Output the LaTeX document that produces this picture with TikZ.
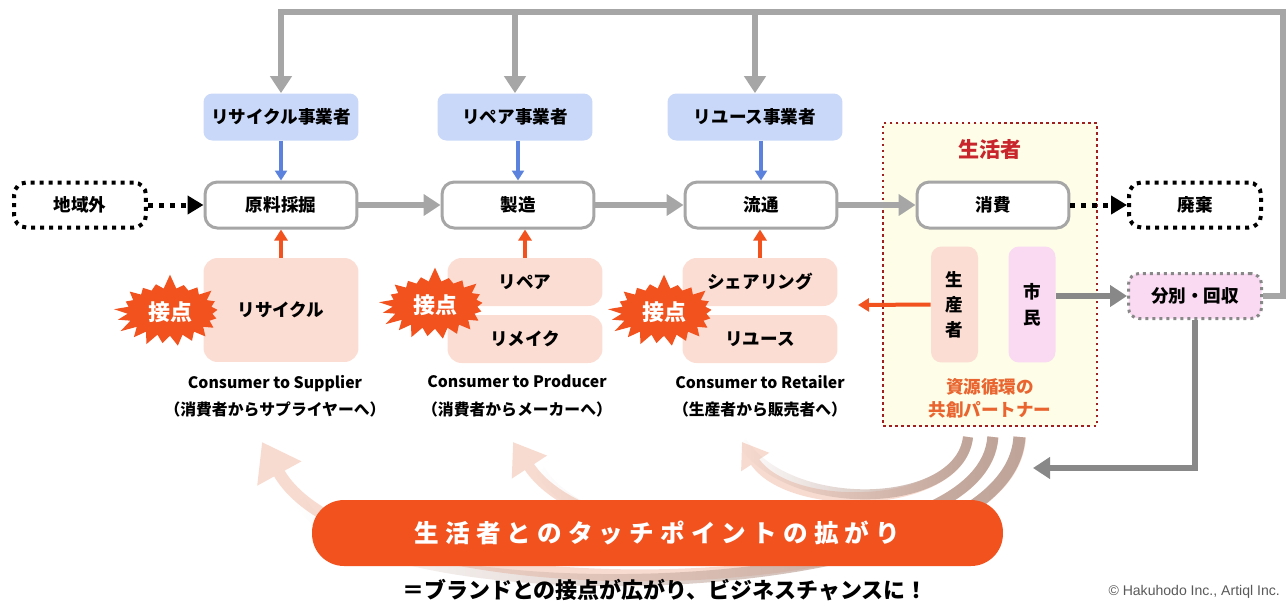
\documentclass[tikz,border=0pt]{standalone}
\usepackage{fontspec}
\setmainfont{Noto Sans CJK JP}
\newfontfamily\copyfont{Liberation Sans}
\usetikzlibrary{arrows.meta,shapes.symbols,fadings}
\definecolor{flowgray}{HTML}{A6A6A6}
\definecolor{backgray}{HTML}{888888}
\definecolor{bluebox}{HTML}{C9D8F8}
\definecolor{bluearrow}{HTML}{5B82DD}
\definecolor{pinkbox}{HTML}{FBDDD3}
\definecolor{accent}{HTML}{F2521E}
\definecolor{magbox}{HTML}{FAD9F2}
\definecolor{creamfill}{HTML}{FDFDE8}
\definecolor{darkred}{HTML}{A02020}
\definecolor{titlered}{HTML}{C8262C}
\definecolor{partner}{HTML}{E9642E}
\definecolor{arcpink}{HTML}{F8DBD0}
\definecolor{arcbrown}{HTML}{BFA49A}

\begin{document}
\begin{tikzpicture}[x=0.02cm, y=-0.02cm, font=\bfseries\fontsize{10}{12}\selectfont,
    actor/.style={fill=bluebox, rounded corners=5pt, minimum width=3.1cm, minimum height=0.94cm},
    stage/.style={draw=flowgray, line width=0.06cm, fill=white, rounded corners=7pt, minimum width=3.04cm, minimum height=0.92cm},
    outer/.style={draw=black, line width=0.08cm, dash pattern=on 0.08cm off 0.1cm, rounded corners=7pt, minimum width=2.64cm, minimum height=0.9cm},
    touch/.style={fill=pinkbox, rounded corners=8pt, minimum width=3.1cm},
    burst/.style={starburst, starburst points=21, starburst point height=0.3cm, random starburst=7, fill=accent, text=white, font=\bfseries\fontsize{12.5}{14}\selectfont, minimum width=2.3cm, minimum height=1.55cm, inner sep=0pt},
    caption/.style={font=\bfseries\fontsize{9}{15.4}\selectfont, align=center},
    grayflow/.style={draw=flowgray, line width=0.12cm, -{Triangle[width=0.42cm,length=0.34cm]}},
    bluearr/.style={draw=bluearrow, line width=0.08cm, -{Triangle[width=0.24cm,length=0.2cm]}},
    redarr/.style={draw=accent, line width=0.08cm, -{Triangle[width=0.26cm,length=0.22cm]}},
    dotarr/.style={draw=black, line width=0.1cm, dash pattern=on 0.1cm off 0.12cm, -{Triangle[width=0.36cm,length=0.32cm]}}]
    \useasboundingbox (0,0) rectangle (1288,606);

    \node[draw=darkred, dotted, line width=0.05cm, fill=creamfill, minimum width=4.28cm, minimum height=6.06cm] (life) at (990,274.5) {};
    \node[text=titlered, font=\bfseries\fontsize{12}{14}\selectfont] (lifet) at (990,149) {生活者};

    \node[actor] (rc) at (281,117) {リサイクル事業者};
    \node[actor] (rp) at (515,117) {リペア事業者};
    \node[actor, minimum width=3.5cm] (ru) at (755,117) {リユース事業者};

    \node[outer] (region) at (80,205) {地域外};
    \node[stage] (mine) at (281,205) {原料採掘};
    \node[stage] (make) at (518,205) {製造};
    \node[stage] (dist) at (761,205) {流通};
    \node[stage] (use) at (993,205) {消費};
    \node[outer] (waste) at (1195,205) {廃棄};

    \node[touch, minimum height=2.08cm] (t1) at (281,310) {リサイクル};
    \node[touch, minimum height=0.96cm] (t2a) at (525,282) {リペア};
    \node[touch, minimum height=0.96cm] (t2b) at (525,339) {リメイク};
    \node[touch, minimum height=0.96cm] (t3a) at (760,282) {シェアリング};
    \node[touch, minimum height=0.96cm] (t3b) at (760,339) {リユース};

    \node[burst] (b1) at (170,312) {接点};
    \node[burst] (b2) at (435,305) {接点};
    \node[burst] (b3) at (664,312) {接点};

    \node[caption] (c1) at (275,396) {Consumer to Supplier\\（消費者からサプライヤーへ）};
    \node[caption] (c2) at (517,396) {Consumer to Producer\\（消費者からメーカーへ）};
    \node[caption] (c3) at (760,396) {Consumer to Retailer\\（生産者から販売者へ）};

    \node[fill=pinkbox, rounded corners=6pt, minimum width=0.94cm, minimum height=2.32cm, align=center, font=\bfseries\fontsize{10}{14.2}\selectfont] (prod) at (954.5,304.5) {生\\産\\者};
    \node[fill=magbox, rounded corners=6pt, minimum width=0.94cm, minimum height=2.32cm, align=center, font=\bfseries\fontsize{10}{15}\selectfont] (citizen) at (1032,304.5) {市\\民};
    \node[text=partner, align=center, font=\bfseries\fontsize{10}{13}\selectfont] (partner) at (990,398) {資源循環の\\共創パートナー};
    \node[fill=magbox, draw=backgray, line width=0.06cm, dash pattern=on 0.06cm off 0.08cm, rounded corners=6pt, minimum width=2.66cm, minimum height=0.9cm] (sort) at (1195,296) {分別・回収};

    \coordinate (topR) at (1283,12);
    \coordinate (prodend) at (858,305);
    \coordinate (backend) at (1033,468);

    \draw[dotarr] (region) -- (mine);
    \draw[grayflow] (mine) -- (make);
    \draw[grayflow] (make) -- (dist);
    \draw[grayflow] (dist) -- (use);
    \draw[dotarr] (use) -- (waste);

    \draw[grayflow] (sort.east) -| (topR) -| (rc.north);
    \draw[grayflow] (rp.north |- topR) -- (rp.north);
    \draw[grayflow] (ru.north |- topR) -- (ru.north);

    \draw[bluearr] (rc) -- (mine);
    \draw[bluearr] (rp.south -| make.north) -- (make.north);
    \draw[bluearr] (ru.south -| dist.north) -- (dist.north);
    \draw[redarr] (t1) -- (mine);
    \draw[redarr] (t2a.north) -- (t2a.north |- make.south);
    \draw[redarr] (t3a.north) -- (t3a.north |- dist.south);

    \draw[redarr] (prod.west) -- (prodend);
    \draw[grayflow, draw=backgray] (citizen.east |- sort.west) -- (sort.west);
    \draw[grayflow, draw=backgray] (sort.south) |- (backend);

    \draw[arcpink, line width=0.24cm, -{Triangle[width=0.96cm,length=0.72cm]}] (1020,437) .. controls (1010,610) and (360,620) .. (262,442);
    \draw[arcbrown, line width=0.24cm, path fading=west] (1020,437) .. controls (1010,610) and (360,620) .. (300,500);
    \draw[arcpink, line width=0.22cm, -{Triangle[width=0.8cm,length=0.6cm]}] (993,437) .. controls (985,560) and (600,575) .. (513,442);
    \draw[arcbrown, line width=0.22cm, path fading=west] (993,437) .. controls (985,560) and (600,575) .. (540,470);
    \draw[arcpink, line width=0.2cm, -{Triangle[width=0.64cm,length=0.48cm]}] (968,437) .. controls (960,510) and (790,515) .. (742,442);
    \draw[arcbrown, line width=0.2cm, path fading=west] (968,437) .. controls (960,510) and (790,515) .. (742,442);

    \node[fill=accent, rounded corners=0.64cm, minimum width=13.82cm, minimum height=1.32cm, text=white, font=\bfseries\fontsize{14}{16}\selectfont\addfontfeature{LetterSpace=25}] (pill) at (657.5,533) {生活者とのタッチポイントの拡がり};
    \node[font=\bfseries\fontsize{12.5}{14}\selectfont] (slogan) at (665,590) {＝ブランドとの接点が広がり、ビジネスチャンスに！};
    \node[anchor=east, text=black!65, font=\copyfont\fontsize{8}{10}\selectfont] (copy) at (1286,592) {© Hakuhodo Inc., Artiql Inc.};
\end{tikzpicture}
\end{document}
